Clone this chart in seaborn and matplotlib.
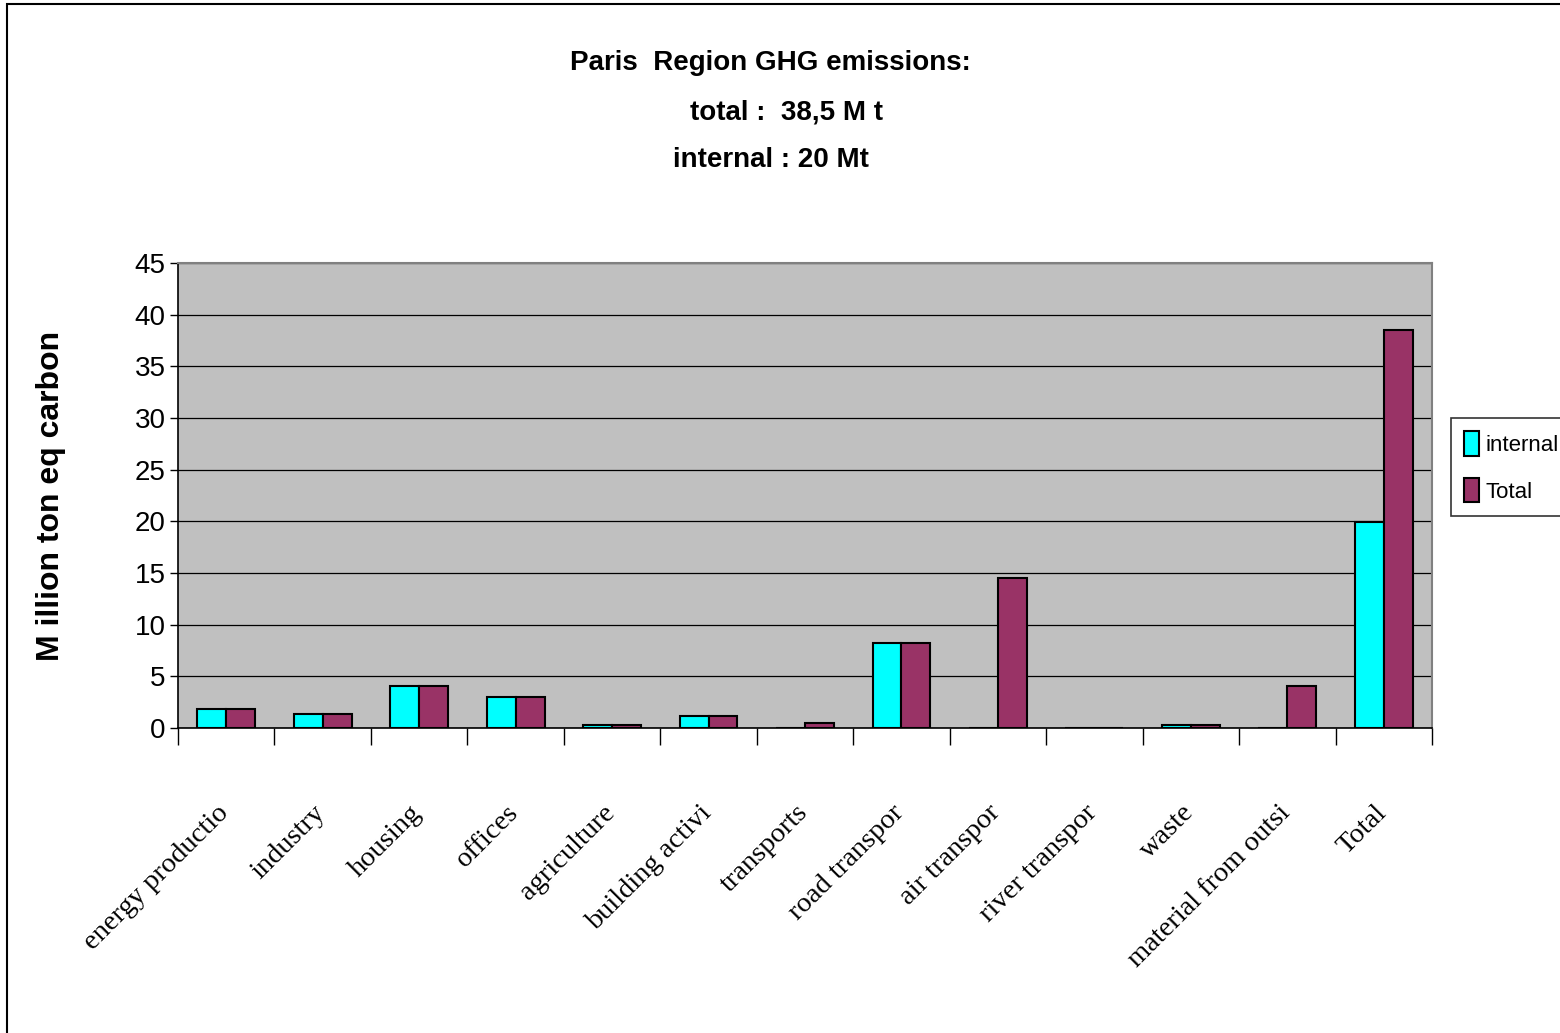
import pandas as pd
import seaborn as sns
import matplotlib.pyplot as plt
import matplotlib.transforms as mtransforms
from matplotlib.patches import Rectangle

# data
categories = ["energy productio", "industry", "housing", "offices", "agriculture",
              "building activi", "transports", "road transpor", "air transpor",
              "river transpor", "waste", "material from outsi", "Total"]
internal = [1.8, 1.4, 4.1, 3.0, 0.3, 1.2, 0.0, 8.2, 0.0, 0.0, 0.3, 0.0, 19.9]
total = [1.8, 1.4, 4.1, 3.0, 0.3, 1.2, 0.5, 8.2, 14.5, 0.0, 0.3, 4.1, 38.5]

df = pd.DataFrame({
    "category": categories * 2,
    "value": internal + total,
    "series": ["internal"] * len(categories) + ["Total"] * len(categories),
})

sns.set_style("white")
plt.rcParams["text.color"] = "black"
plt.rcParams["xtick.color"] = "black"
plt.rcParams["ytick.color"] = "black"
plt.rcParams["axes.labelcolor"] = "black"
sans = ["Liberation Sans", "DejaVu Sans"]
serif = ["Liberation Serif", "DejaVu Serif"]

fig = plt.figure(figsize=(15.6, 10.33), dpi=100)
ax = fig.add_axes([178 / 1560, 1 - 728 / 1033, (1432 - 178) / 1560, (728 - 263) / 1033])

sns.barplot(data=df, x="category", y="value", hue="series",
            palette=["#00FFFF", "#993366"], width=0.6, edgecolor="black",
            linewidth=1.5, saturation=1, ax=ax)

ax.set_facecolor("#C0C0C0")
ax.set_ylim(0, 45)
ax.set_xlim(-0.5, len(categories) - 0.5)
ax.set_yticks(range(0, 46, 5))
ax.set_yticklabels([str(v) for v in range(0, 46, 5)], family=sans, fontsize=20)
ax.yaxis.grid(True, color="black", linewidth=0.9)
ax.set_axisbelow(True)
ax.tick_params(axis="y", left=True, length=6, width=1, pad=3)

# boundary ticks below the axis, labels at centres
ax.set_xticks([i - 0.5 for i in range(len(categories) + 1)])
ax.set_xticklabels([])
ax.set_xticks(range(len(categories)), minor=True)
ax.set_xticklabels(categories, minor=True, rotation=45, ha="right",
                   rotation_mode="anchor", family=serif, fontsize=20.5)
ax.tick_params(axis="x", which="major", bottom=True, length=12, width=1)
ax.tick_params(axis="x", which="minor", bottom=False, pad=50)
shift = mtransforms.ScaledTranslation(-10 / 100, 0, fig.dpi_scale_trans)
for lab in ax.get_xticklabels(minor=True):
    lab.set_transform(lab.get_transform() + shift)

for side in ["top", "right"]:
    ax.spines[side].set_color("#808080")
    ax.spines[side].set_linewidth(1.5)
for side in ["left", "bottom"]:
    ax.spines[side].set_color("black")
    ax.spines[side].set_linewidth(1.2)

ax.set_xlabel("")
ax.set_ylabel("M illion ton eq carbon", fontsize=23, fontweight="bold", family=sans)
ax.yaxis.set_label_coords(-112 / 1254, 0.5)

handles, labels = ax.get_legend_handles_labels()
ax.legend_.remove()
leg = fig.legend(handles, labels, loc="upper left",
                 bbox_to_anchor=(1451 / 1560, 1 - 418 / 1033),
                 frameon=True, fancybox=False, edgecolor="black",
                 prop={"family": sans, "size": 16}, handlelength=0.65,
                 handleheight=1.3, handletextpad=0.3, labelspacing=1.0,
                 borderpad=0.6, borderaxespad=0)
leg.get_frame().set_linewidth(1.2)

title_font = dict(ha="center", va="center", fontsize=20, fontweight="bold", family=sans)
fig.text(770 / 1560, 1 - 63 / 1033, "Paris  Region GHG emissions:", **title_font)
fig.text(787 / 1560, 1 - 112 / 1033, "total :  38,5 M t", **title_font)
fig.text(771 / 1560, 1 - 160 / 1033, "internal : 20 Mt", **title_font)

fig.patches.append(Rectangle((7 / 1560, -0.01), 1.1, 1 - 4 / 1033 + 0.01,
                             transform=fig.transFigure, fill=False,
                             edgecolor="black", linewidth=1.5))

fig.savefig("out.png", dpi=100)
